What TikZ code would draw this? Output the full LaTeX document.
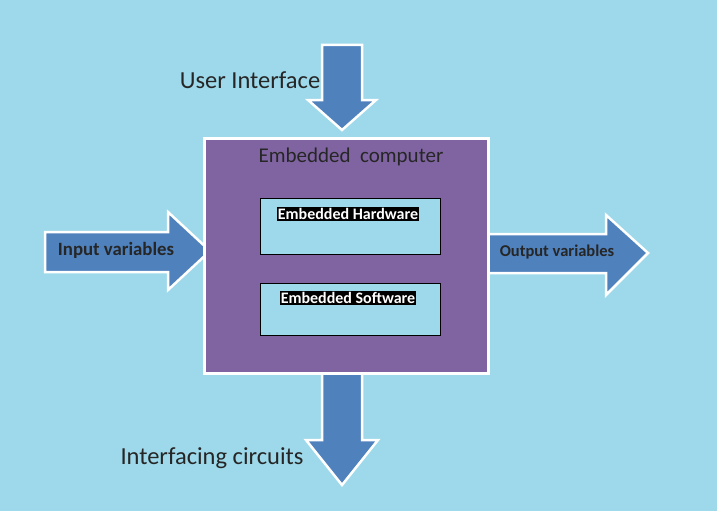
\documentclass[tikz,border=0pt]{standalone}
\usepackage{fontspec}
\setmainfont{Carlito}
\definecolor{bg}{HTML}{9DD9EA}
\definecolor{pur}{HTML}{8064A2}
\definecolor{arr}{HTML}{4F81BD}
\definecolor{inner}{HTML}{9DD9EA}
\begin{document}
\begin{tikzpicture}[x=1pt,y=-1pt,
  arrowshape/.style={fill=arr,draw=white,line width=2.5pt,line join=miter},
  lbl/.style={font=\bfseries\fontsize{16}{18}\selectfont,text=white,fill=black,inner sep=1pt},
  big/.style={font=\fontsize{24.5}{28}\selectfont,text=black!85}]
\fill[bg] (0,0) rectangle (717,511);
\useasboundingbox (0,0) rectangle (717,511);
% top arrow
\draw[arrowshape] (322,45) -- (362,45) -- (362,100) -- (376,100) -- (342,130) -- (308,100) -- (322,100) -- cycle;
% bottom arrow
\draw[arrowshape] (322,372) -- (362,372) -- (362,440) -- (378,440) -- (342,485) -- (306,440) -- (322,440) -- cycle;
% left arrow
\draw[arrowshape] (45,232) -- (168,232) -- (168,212) -- (210,251) -- (168,290) -- (168,272) -- (45,272) -- cycle;
% right arrow
\draw[arrowshape] (488,234) -- (606,234) -- (606,215) -- (648,253) -- (606,295) -- (606,273) -- (488,273) -- cycle;
\node[draw=white,line width=2.5pt,fill=pur,minimum width=284pt,minimum height=235pt,anchor=north west,inner sep=0pt] (ec) at (203,137) {};
\node[font=\fontsize{21}{24}\selectfont,text=black!85] (ect) at (351,157) {Embedded\ \ computer};
\node[draw=black,fill=inner,minimum width=180pt,minimum height=56pt,anchor=north west,inner sep=0pt] (hw) at (260,198) {};
\node[lbl] (hwt) at (348,214) {Embedded Hardware};
\node[draw=black,fill=inner,minimum width=180pt,minimum height=52pt,anchor=north west,inner sep=0pt] (sw) at (260,283) {};
\node[lbl] (swt) at (348,298) {Embedded Software};
\node[big] (ui) at (250,80) {User Interface};
\node[big] (ic) at (212,458) {Interfacing circuits};
\node[font=\bfseries\fontsize{18.8}{21}\selectfont,text=black!85] (iv) at (116,250) {Input variables};
\node[font=\bfseries\fontsize{16.5}{19}\selectfont,text=black!85] (ov) at (557,252) {Output variables};
\end{tikzpicture}
\end{document}
